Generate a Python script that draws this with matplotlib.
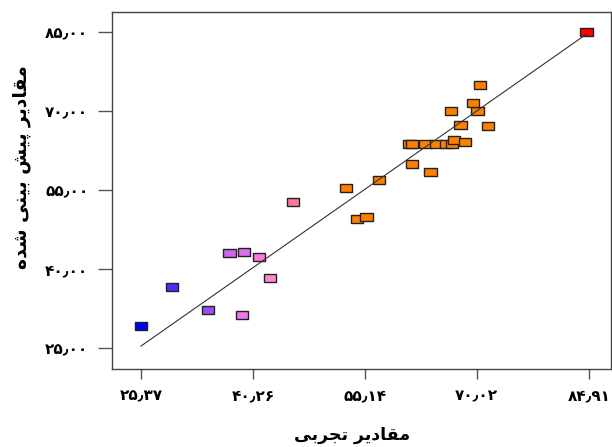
import numpy as np
import matplotlib
matplotlib.use("Agg")
import matplotlib.pyplot as plt

# مقادیر تجربی (محور افقی) و مقادیر پیش بینی شده (محور عمودی)
x_exp = [25.37, 29.49, 34.32, 37.16, 39.06, 38.83, 41.09, 42.56, 45.57,
         52.66, 54.08, 55.37, 57.00, 61.44, 63.87,
         61.08, 61.45, 63.21, 64.67, 66.00, 66.77,
         67.01, 68.43, 67.86, 71.56, 66.61, 70.12, 69.53, 70.43,
         84.60]
y_pred = [29.18, 36.53, 32.28, 43.04, 43.23, 31.33, 42.34, 38.29, 52.72,
          55.47, 49.44, 49.81, 56.90, 59.94, 58.42,
          63.79, 63.79, 63.79, 63.79, 63.79, 63.79,
          64.59, 64.06, 67.44, 67.25, 69.94, 69.94, 71.61, 74.99,
          84.94]
point_colors = ['#0000ff', '#4b2bff', '#9950ee', '#cc66ee', '#e070ee', '#ee77ee',
                '#ff77dd', '#ff88cc', '#ff7799'] + ['#ff8000'] * 20 + ['#ff0000']

x_ticks = [25.37, 40.26, 55.14, 70.02, 84.91]
y_ticks = [25.0, 40.0, 55.0, 70.0, 85.0]

x_label = "مقادیر تجربی"
y_label = "مقادیر پیش بینی شده"

# شکل‌های نمایشی حروف: (جدا، پایانی، آغازی، میانی)
FORMS = {
    'م': ('\uFEE1', '\uFEE2', '\uFEE3', '\uFEE4'),
    'ق': ('\uFED5', '\uFED6', '\uFED7', '\uFED8'),
    'ا': ('\uFE8D', '\uFE8E', None, None),
    'د': ('\uFEA9', '\uFEAA', None, None),
    'ر': ('\uFEAD', '\uFEAE', None, None),
    'ی': ('\uFBFC', '\uFBFD', '\uFBFE', '\uFBFF'),
    'ت': ('\uFE95', '\uFE96', '\uFE97', '\uFE98'),
    'ج': ('\uFE9D', '\uFE9E', '\uFE9F', '\uFEA0'),
    'ب': ('\uFE8F', '\uFE90', '\uFE91', '\uFE92'),
    'پ': ('\uFB56', '\uFB57', '\uFB58', '\uFB59'),
    'ش': ('\uFEB5', '\uFEB6', '\uFEB7', '\uFEB8'),
    'ن': ('\uFEE5', '\uFEE6', '\uFEE7', '\uFEE8'),
    'ه': ('\uFEE9', '\uFEEA', '\uFEEB', '\uFEEC'),
}


def shape_fa(text):
    out = []
    for i, ch in enumerate(text):
        if ch not in FORMS:
            out.append(ch)
            continue
        prev = text[i - 1] if i > 0 else ''
        nxt = text[i + 1] if i + 1 < len(text) else ''
        join_prev = prev in FORMS and FORMS[prev][2] is not None
        join_next = FORMS[ch][2] is not None and nxt in FORMS
        f = FORMS[ch]
        if join_prev and join_next:
            out.append(f[3])
        elif join_prev:
            out.append(f[1])
        elif join_next:
            out.append(f[2])
        else:
            out.append(f[0])
    return ''.join(reversed(out))


def fa_num(v, digits=2):
    s = f"{v:.{digits}f}".replace('.', '٫')
    return s.translate(str.maketrans('0123456789', '۰۱۲۳۴۵۶۷۸۹'))


plt.rcParams['font.family'] = ['DejaVu Sans']

fig = plt.figure(figsize=(6.12, 4.47), dpi=100)
ax = fig.add_axes([0.183, 0.1745, 0.815, 0.7985])

rect = [(-1.55, -1), (1.55, -1), (1.55, 1), (-1.55, 1), (-1.55, -1)]
ax.scatter(x_exp, y_pred, marker=rect, s=78, c=point_colors,
           edgecolors='#222222', linewidths=1.0, zorder=2)

lo, hi = min(x_exp), max(x_exp)
ax.plot([lo, hi], [lo, hi], color='#333333', linewidth=0.8, zorder=3)

ax.set_xlim(21.52, 87.84)
ax.set_ylim(21.02, 88.8)

ax.set_xticks(x_ticks)
ax.set_xticklabels([fa_num(v) for v in x_ticks], fontsize=11, fontweight='bold')
ax.set_yticks(y_ticks)
ax.set_yticklabels([fa_num(v) for v in y_ticks], fontsize=11, fontweight='bold')
ax.tick_params(axis='x', direction='out', length=7, width=1, color='#555555', pad=7)
ax.tick_params(axis='y', direction='out', length=10, width=1, color='#555555', pad=7)

for sp in ax.spines.values():
    sp.set_color('#444444')
    sp.set_linewidth(1.0)

ax.set_xlabel(shape_fa(x_label), fontsize=12.5, fontweight='bold')
ax.set_ylabel(shape_fa(y_label), fontsize=13.5, fontweight='bold')
ax.xaxis.set_label_coords(0.482, -0.16)
ax.yaxis.set_label_coords(-0.162, 0.565)

fig.savefig('out.png', dpi=100)
